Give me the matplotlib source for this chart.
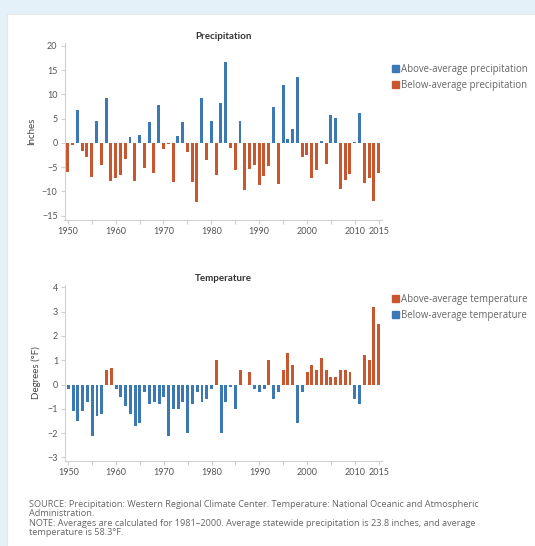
import matplotlib
matplotlib.use("Agg")
import matplotlib.pyplot as plt
from matplotlib.patches import Patch, Rectangle

years = list(range(1950, 2016))
precip = [
    -6.0, -0.5, 6.8, -1.6, -3.0, -7.0, 4.5, -4.6, 9.3, -7.9,
    -7.3, -6.6, -3.4, 1.2, -7.9, 1.7, -5.1, 4.4, -6.2, 7.9,
    -1.2, -0.3, -8.0, 1.4, 4.4, -1.8, -8.1, -12.2, 9.3, -3.6,
    4.6, -6.7, 8.3, 16.6, -1.0, -5.5, 4.6, -9.8, -5.4, -4.6,
    -8.7, -6.9, -4.8, 7.4, -8.5, 12.0, 0.8, 2.8, 13.5, -3.0,
    -2.4, -7.2, -5.6, 0.4, -4.3, 5.8, 5.2, -9.6, -7.6, -6.5,
    0.2, 6.2, -8.2, -7.3, -11.9, -6.2,
]
temp = [
    -0.2, -1.1, -1.5, -1.1, -0.7, -2.1, -1.3, -1.2, 0.6, 0.7,
    -0.2, -0.5, -0.9, -1.2, -1.7, -1.6, -0.3, -0.8, -0.7, -0.8,
    -0.5, -2.1, -1.0, -1.0, -0.7, -2.0, -0.8, -0.3, -0.7, -0.6,
    -0.2, 1.0, -2.0, -0.7, -0.1, -1.0, 0.6, 0.0, 0.5, -0.2,
    -0.3, -0.2, 1.0, -0.6, -0.3, 0.6, 1.3, 0.8, -1.6, -0.3,
    0.5, 0.8, 0.6, 1.1, 0.6, 0.3, 0.3, 0.6, 0.6, 0.5,
    -0.6, -0.8, 1.2, 1.0, 3.2, 2.5,
]
x_ticks = [1950, 1960, 1970, 1980, 1990, 2000, 2010, 2015]
precip_yticks = [20, 15, 10, 5, 0, -5, -10, -15]
temp_yticks = [4, 3, 2, 1, 0, -1, -2, -3]

BLUE = "#3b78b4"
RED = "#c8562e"
GRID = "#d0d0d0"
TXT = "#555555"

plt.rcParams['font.family'] = ['Lato', 'DejaVu Sans']
WIDE = ['Open Sans', 'DejaVu Sans']

fig = plt.figure(figsize=(5.35, 5.46), dpi=100)
fig.patch.set_facecolor("#e4f1f9")
fig.patches.append(Rectangle((7 / 535, 0), 1, 1 - 14 / 546, transform=fig.transFigure,
                             facecolor="white", edgecolor="#e6e6e6", lw=0.8, zorder=-10))


def style(ax, yticks, ylim):
    ax.set_xlim(1949.3, 2015.7)
    ax.set_ylim(*ylim)
    ax.set_xticks(x_ticks)
    ax.set_xticks(list(range(1950, 2016, 5)), minor=True)
    ax.set_yticks(yticks)
    for s in ["top", "right"]:
        ax.spines[s].set_visible(False)
    for s in ["left", "bottom"]:
        ax.spines[s].set_color(GRID)
        ax.spines[s].set_linewidth(0.8)
    ax.tick_params(axis="both", which="both", colors=GRID, labelcolor=TXT,
                   labelsize=6.5, length=3, width=0.8, pad=2)
    ax.set_facecolor("none")


legend_kw = dict(loc="upper left", frameon=False,
                 prop={'family': WIDE, 'size': 6.9},
                 handlelength=0.75, handleheight=0.75, handletextpad=0.25, labelspacing=0.5,
                 borderaxespad=0, borderpad=0, labelcolor="#666666")

# Precipitation
ax1 = fig.add_axes([64.5 / 535, 1 - 220 / 546, (382 - 64.5) / 535, (220 - 43) / 546])
pc = [BLUE if v >= 0 else RED for v in precip]
ax1.bar(years, precip, width=0.62, color=pc)
style(ax1, precip_yticks, (-15.9, 20.6))
ax1.set_title("Precipitation", fontsize=7, fontweight="bold", color="#333333", pad=3)
ax1.set_ylabel("Inches", fontsize=7, color="#444444", labelpad=4)
ax1.legend(handles=[Patch(color=BLUE, label="Above-average precipitation"),
                    Patch(color=RED, label="Below-average precipitation")],
           bbox_to_anchor=(1.03, 0.88), **legend_kw)

# Temperature
ax2 = fig.add_axes([65 / 535, 1 - 461 / 546, (382 - 65) / 535, (461 - 285) / 546])
tc = [RED if v >= 0 else BLUE for v in temp]
ax2.bar(years, temp, width=0.62, color=tc)
style(ax2, temp_yticks, (-3.15, 4.1))
ax2.set_title("Temperature", fontsize=7, fontweight="bold", color="#333333", pad=3)
ax2.set_ylabel("Degrees (°F)", fontsize=7, color="#444444", labelpad=5)
ax2.legend(handles=[Patch(color=RED, label="Above-average temperature"),
                    Patch(color=BLUE, label="Below-average temperature")],
           bbox_to_anchor=(1.03, 0.95), **legend_kw)

fig.text(29 / 535, 1 - 500 / 546,
         "SOURCE: Precipitation: Western Regional Climate Center. Temperature: National Oceanic and Atmospheric\nAdministration.",
         fontsize=6.6, family=WIDE, color="#666666", va="top", ha="left", linespacing=0.95)
fig.text(29 / 535, 1 - 519 / 546,
         "NOTE: Averages are calculated for 1981\u20132000. Average statewide precipitation is 23.8 inches, and average\ntemperature is 58.3°F.",
         fontsize=6.6, family=WIDE, color="#666666", va="top", ha="left", linespacing=0.95)

fig.savefig("out.png", dpi=100)
